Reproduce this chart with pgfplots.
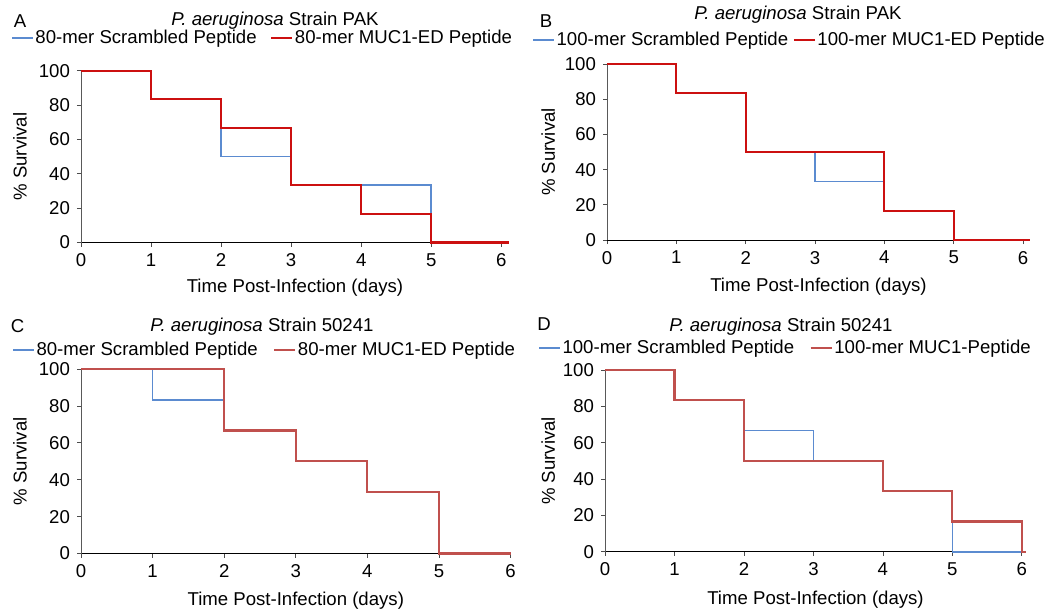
\documentclass[border=0pt]{standalone}
\usepackage{fontspec}
\setmainfont{Liberation Sans}
\usepackage{pgfplots}
\pgfplotsset{compat=1.18}

\definecolor{scrblue}{HTML}{5B8BD0}
\definecolor{mucred}{HTML}{CC1010}
\definecolor{mucred2}{HTML}{C0504D}

\pgfplotsset{
    surv/.style={
        scale only axis,
        anchor=south west,
        axis lines=left,
        axis line style={-},
        x axis line style={black},
        y axis line style={black!65},
        xmin=0, ymin=0, ymax=100,
        xtick={0,1,2,3,4,5,6},
        ytick={0,20,40,60,80,100},
        tick align=outside,
        major tick length=2pt,
        tick style={black!70, thin},
        /pgf/number format/assume math mode=true,
        clip=false,
        xlabel={Time Post-Infection (days)},
        ylabel={\% Survival},
        legend columns=2,
        legend image code/.code={\draw[##1] (0pt,0pt) -- (10.5pt,0pt);},
        legend style={draw=none, fill=none, inner sep=0pt, anchor=west,
            nodes={inner sep=0.75pt}},
    },
    blueline/.style={const plot, color=scrblue, line width=0.8pt, no marks},
    redline/.style={const plot, color=#1, line width=1.1pt, no marks},
}

\begin{document}
\begin{tikzpicture}[font=\fontsize{9.3pt}{11pt}\selectfont]
\path[use as bounding box] (0,0) rectangle (525pt,-306pt);

% panel A
\node at (10pt,-10.75pt) {A};
\node at (137.5pt,-10.5pt) {\textit{P. aeruginosa} Strain PAK};
\begin{axis}[surv, at={(40.5pt,-121.25pt)}, width=214pt, height=85.9pt, xmax=6.11,
    xlabel style={at={(axis description cs:0.5,-0.265)}, anchor=center},
    ylabel style={at={(axis description cs:-0.1425,0.5)}, anchor=center},
    legend style={at={(axis description cs:-0.1636,1.19)},
        /tikz/every even column/.append style={column sep=6pt}}]
    \addplot[blueline] coordinates {(0,100) (1,83.33) (2,50) (3,33.33) (4,33.33) (5,0) (6.11,0)};
    \addplot[redline=mucred] coordinates {(0,100) (1,83.33) (2,66.67) (3,33.33) (4,16.67) (5,0) (6.11,0)};
    \legend{80-mer Scrambled Peptide, 80-mer MUC1-ED Peptide}
\end{axis}

% panel B
\node at (273pt,-10.75pt) {B};
\node at (399pt,-7.5pt) {\textit{P. aeruginosa} Strain PAK};
\begin{axis}[surv, at={(303.5pt,-120pt)}, width=211.5pt, height=88pt, xmax=6.1,
    xlabel style={at={(axis description cs:0.5,-0.267)}, anchor=center},
    ylabel style={at={(axis description cs:-0.139,0.5)}, anchor=center},
    legend style={at={(axis description cs:-0.177,1.136)},
        /tikz/every even column/.append style={column sep=1.5pt}}]
    \addplot[blueline] coordinates {(0,100) (1,83.33) (2,50) (3,33.33) (4,16.67) (5,0) (6.1,0)};
    \addplot[redline=mucred] coordinates {(0,100) (1,83.33) (2,50) (3,50) (4,16.67) (5,0) (6.1,0)};
    \legend{100-mer Scrambled Peptide, 100-mer MUC1-ED Peptide}
\end{axis}

% panel C
\node at (8.75pt,-163pt) {C};
\node at (131pt,-163.5pt) {\textit{P. aeruginosa} Strain 50241};
\begin{axis}[surv, at={(40.5pt,-276.75pt)}, width=214.8pt, height=92.25pt, xmax=6,
    xlabel style={at={(axis description cs:0.5,-0.257)}, anchor=center},
    ylabel style={at={(axis description cs:-0.142,0.5)}, anchor=center},
    legend style={at={(axis description cs:-0.1606,1.103)},
        /tikz/every even column/.append style={column sep=7pt}}]
    \addplot[blueline] coordinates {(0,100) (1,83.33) (2,66.67) (3,50) (4,33.33) (5,0) (6,0)};
    \addplot[redline=mucred2] coordinates {(0,100) (1,100) (2,66.67) (3,50) (4,33.33) (5,0) (6,0)};
    \legend{80-mer Scrambled Peptide, 80-mer MUC1-ED Peptide}
\end{axis}

% panel D
\node at (272pt,-162pt) {D};
\node at (390.5pt,-163.5pt) {\textit{P. aeruginosa} Strain 50241};
\begin{axis}[surv, at={(302.5pt,-275.85pt)}, width=210.5pt, height=90.85pt, xmax=6.06,
    xlabel style={at={(axis description cs:0.5,-0.266)}, anchor=center},
    ylabel style={at={(axis description cs:-0.135,0.5)}, anchor=center},
    legend style={at={(axis description cs:-0.159,1.121)},
        /tikz/every even column/.append style={column sep=7pt}}]
    \addplot[blueline] coordinates {(0,100) (1,83.33) (2,66.67) (3,50) (4,33.33) (5,0) (6,0)};
    \addplot[redline=mucred2] coordinates {(0,100) (1,83.33) (2,50) (3,50) (4,33.33) (5,16.67) (6,0) (6.06,0)};
    \legend{100-mer Scrambled Peptide, 100-mer MUC1-Peptide}
\end{axis}
\end{tikzpicture}
\end{document}
